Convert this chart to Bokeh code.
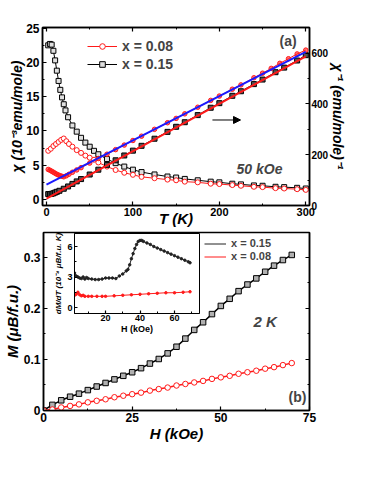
import numpy as np
from bokeh.plotting import figure
from bokeh.models import (Range1d, LinearAxis, Legend, LegendItem, Label, Arrow,
                          NormalHead, GridBox, FixedTicker)
from bokeh.embed import file_html
from bokeh.resources import INLINE

FONT = "Liberation Sans"
RED = "#ff1a1a"
BLUE = "#1a1aff"

# ---------------- panel (a) data ----------------
T_chi15 = [2, 4, 6, 8, 10, 12, 14, 16, 18, 20, 22, 25, 30, 35, 40, 45, 50, 55, 60,
           70, 80, 90, 100, 110, 125, 140, 150, 160, 175, 190, 200, 215, 225, 240,
           250, 265, 275, 290, 300]
chi15 = [22.5, 22.7, 22.6, 21.7, 20.3, 18.8, 17.3, 16.0, 14.9, 13.9, 13.0, 12.0, 10.8,
         9.9, 9.0, 8.3, 7.7, 7.1, 6.6, 5.9, 5.3, 4.8, 4.35, 4.0, 3.65, 3.35, 3.2, 3.0,
         2.8, 2.6, 2.5, 2.3, 2.2, 2.05, 2.0, 1.85, 1.8, 1.7, 1.6]

T_chi08 = [2, 5, 8, 11, 14, 17, 20, 23, 26, 30, 35, 40, 45, 50, 55, 60, 70, 80, 90,
           100, 110, 125, 140, 150, 160, 175, 190, 200, 215, 225, 240, 250, 265, 275,
           290, 300]
chi08 = [7.1, 7.4, 7.8, 8.1, 8.4, 8.7, 8.9, 8.5, 8.1, 7.7, 7.2, 6.8, 6.4, 6.1, 5.8,
         5.4, 4.8, 4.3, 3.9, 3.6, 3.3, 3.1, 2.9, 2.8, 2.6, 2.5, 2.3, 2.25, 2.1, 2.0,
         1.85, 1.8, 1.65, 1.6, 1.5, 1.4]

T_inv15 = [2, 4, 6, 8, 10, 12, 15, 20, 25, 30, 35, 40, 50, 60, 70, 80, 90, 100, 110,
           125, 140, 150, 160, 175, 190, 200, 215, 225, 240, 250, 265, 275, 290, 300]
inv15 = [45, 45, 46, 48, 51, 54, 58, 66, 75, 85, 95, 104, 122, 141, 160, 178, 197, 216,
         235, 263, 290, 310, 328, 356, 385, 403, 432, 450, 478, 496, 525, 543, 571, 592]

T_inv08 = [2, 4, 6, 8, 10, 12, 14, 16, 18, 20, 23, 26, 30, 35, 40, 50, 60, 70, 80, 90,
           100, 110, 125, 140, 150, 160, 175, 190, 200, 215, 225, 240, 250, 260, 270,
           280, 290, 300]
inv08 = [142, 139, 135, 131, 127, 123, 120, 117, 115, 113, 117, 123, 131, 140, 149, 167,
         185, 202, 220, 238, 256, 273, 300, 326, 343, 361, 387, 414, 431, 458, 475, 503,
         521, 540, 560, 578, 597, 612]

fit_T = [0, 300]
fit08 = [82, 605]
fit15 = [27, 587]

# ---------------- panel (b) data ----------------
H_b = [0, 2.5, 5, 7.5, 10, 12.5, 15, 17.5, 20, 22.5, 25, 27.5, 30, 32.5, 35, 37.5, 40,
       42.5, 45, 47.5, 50, 52.5, 55, 57.5, 60, 62.5, 65, 67.5, 70]
M15 = [0, 0.011, 0.020, 0.027, 0.033, 0.040, 0.047, 0.054, 0.061, 0.068, 0.075, 0.083,
       0.092, 0.101, 0.112, 0.125, 0.141, 0.158, 0.173, 0.189, 0.205, 0.219, 0.234,
       0.247, 0.259, 0.272, 0.284, 0.295, 0.305]
M08 = [0, 0.002, 0.006, 0.009, 0.012, 0.016, 0.019, 0.022, 0.026, 0.029, 0.032, 0.035,
       0.039, 0.042, 0.045, 0.049, 0.052, 0.055, 0.058, 0.062, 0.065, 0.068, 0.072,
       0.075, 0.078, 0.082, 0.085, 0.089, 0.093]

# ---------------- inset data ----------------
H_in15 = [2, 3, 4, 5, 6, 7, 8, 9, 10, 12, 14, 16, 18, 20, 22, 24, 26, 28, 30, 32, 33,
          34, 35, 36, 37, 38, 39, 40, 41, 42, 44, 46, 48, 50, 52, 54, 56, 58, 60, 62,
          64, 66, 68, 69]
dM15 = [3.4, 3.1, 3.0, 2.9, 2.85, 3.0, 2.8, 2.95, 2.85, 2.8, 2.75, 2.75, 2.8, 2.9, 2.9,
        2.9, 2.85, 3.1, 3.3, 3.6, 3.75, 4.2, 4.8, 5.3, 5.8, 6.2, 6.5, 6.6, 6.6, 6.5,
        6.35, 6.2, 6.0, 5.85, 5.7, 5.55, 5.4, 5.25, 5.1, 4.95, 4.8, 4.65, 4.5, 4.4]
H_in08 = [2, 3, 4, 5, 6, 7, 8, 10, 12, 15, 18, 20, 25, 30, 35, 40, 45, 50, 55, 60, 65, 69]
dM08 = [1.2, 1.3, 1.5, 1.25, 1.15, 1.2, 1.1, 1.1, 1.1, 1.1, 1.1, 1.1, 1.15, 1.2, 1.25,
        1.3, 1.35, 1.4, 1.45, 1.45, 1.5, 1.55]


def style_axis(ax, size="11px", label_size="15px", label_style="bold italic"):
    ax.axis_line_width = 1.5
    ax.axis_line_color = "black"
    ax.major_tick_in = 4
    ax.major_tick_out = 0
    ax.minor_tick_in = 2
    ax.minor_tick_out = 0
    ax.major_tick_line_width = 1.2
    ax.major_label_text_font = FONT
    ax.major_label_text_font_style = "bold"
    ax.major_label_text_font_size = size
    ax.major_label_text_color = "black"
    ax.axis_label_text_font = FONT
    ax.axis_label_text_font_style = label_style
    ax.axis_label_text_font_size = label_size
    ax.axis_label_text_color = "black"


def mirror(ax):
    ax.major_label_text_font_size = "1px"
    ax.major_label_text_color = None
    ax.major_label_standoff = 0
    ax.axis_label = None


# ================= panel (a) =================
pa = figure(width=366, height=230, x_range=Range1d(-4.6, 304.3),
            y_range=Range1d(-0.88, 25.1), output_backend="svg",
            toolbar_location=None, min_border_left=42, min_border_right=57,
            min_border_top=27, min_border_bottom=25, frame_align=False)
pa.grid.visible = False
pa.outline_line_color = "black"
pa.outline_line_width = 1.5
pa.extra_y_ranges = {"inv": Range1d(0, 701)}

pa.xaxis.ticker = FixedTicker(ticks=[0, 100, 200, 300], minor_ticks=[50, 150, 250])
pa.yaxis.ticker = FixedTicker(ticks=[0, 5, 10, 15, 20, 25],
                              minor_ticks=[2.5, 7.5, 12.5, 17.5, 22.5])
pa.xaxis.axis_label = "T (K)"
pa.yaxis.axis_label = "χ (10⁻³emu/mole)"
style_axis(pa.xaxis[0])
style_axis(pa.yaxis[0], size="12px", label_size="14px")
pa.xaxis.major_label_standoff = 2
pa.xaxis.axis_label_standoff = -9
pa.yaxis.major_label_standoff = 3
pa.yaxis.axis_label_standoff = -2

ax_r = LinearAxis(y_range_name="inv", axis_label="χ⁻¹ (emu/mole)⁻¹",
                  ticker=FixedTicker(ticks=[0, 200, 400, 600], minor_ticks=[100, 300, 500, 700]))
style_axis(ax_r, size="10px", label_size="14px")
ax_r.major_label_standoff = 2
ax_r.axis_label_standoff = -1
pa.add_layout(ax_r, "right")

ax_t = LinearAxis(ticker=FixedTicker(ticks=[0, 100, 200, 300], minor_ticks=[50, 150, 250]))
style_axis(ax_t)
mirror(ax_t)
pa.add_layout(ax_t, "above")

# chi data (left axis)
l15 = pa.line(T_chi15, chi15, line_color="black", line_width=1)
s15 = pa.scatter(T_chi15, chi15, marker="square", size=5, line_color="black",
                 fill_color="#e0e0e0", line_width=1)
l08 = pa.line(T_chi08, chi08, line_color=RED, line_width=1)
s08 = pa.scatter(T_chi08, chi08, marker="circle", size=5, line_color=RED,
                 fill_color="white", line_width=1)
# inverse chi data (right axis)
pa.line(T_inv15, inv15, line_color="black", line_width=1, y_range_name="inv")
pa.scatter(T_inv15, inv15, marker="square", size=5, line_color="black",
           fill_color="#555555", line_width=1, y_range_name="inv")
pa.line(T_inv08, inv08, line_color=RED, line_width=1, y_range_name="inv")
pa.scatter(T_inv08, inv08, marker="circle", size=4.5, line_color=RED,
           fill_color=RED, fill_alpha=0.6, line_width=1, y_range_name="inv")
# Curie-Weiss fits
pa.line(fit_T, fit15, line_color=RED, line_width=2, y_range_name="inv")
pa.line(fit_T, fit08, line_color=BLUE, line_width=2, y_range_name="inv")

leg_a = Legend(items=[LegendItem(label="x = 0.08", renderers=[l08, s08]),
                      LegendItem(label="x = 0.15", renderers=[l15, s15])],
               location=(45, 133), glyph_width=30, glyph_height=14, label_height=14,
               label_standoff=5, spacing=2, padding=0, margin=0,
               background_fill_alpha=0, border_line_alpha=0,
               label_text_font=FONT, label_text_font_style="bold",
               label_text_font_size="14px")
pa.add_layout(leg_a)

pa.add_layout(Label(x=279.6, y=23.2, text="(a)", text_font=FONT, text_font_style="bold",
                    text_font_size="14px", text_align="center", text_baseline="middle"))
pa.add_layout(Label(x=246.4, y=4.42, text="50 kOe", text_font=FONT,
                    text_font_style="bold italic", text_font_size="14px",
                    text_align="center", text_baseline="middle"))
pa.add_layout(Arrow(end=NormalHead(size=7, fill_color="black", line_color="black"),
                    x_start=192, y_start=11.6, x_end=224.5, y_end=11.6,
                    line_width=1, line_color="black"))

# ================= panel (b) =================
pb = figure(width=366, height=224, x_range=Range1d(0, 75), y_range=Range1d(0, 0.349),
            output_backend="svg", toolbar_location=None, min_border_left=42,
            min_border_right=57, min_border_top=2, min_border_bottom=44,
            frame_align=False)
pb.grid.visible = False
pb.outline_line_color = "black"
pb.outline_line_width = 1.5
pb.xaxis.ticker = FixedTicker(ticks=[0, 25, 50, 75], minor_ticks=[12.5, 37.5, 62.5])
pb.yaxis.ticker = FixedTicker(ticks=[0, 0.1, 0.2, 0.3], minor_ticks=[0.05, 0.15, 0.25])
pb.xaxis.axis_label = "H (kOe)"
pb.yaxis.axis_label = "M (μB/f.u.)"
style_axis(pb.xaxis[0], size="12px", label_size="15px")
style_axis(pb.yaxis[0], size="12px", label_size="15px")
pb.xaxis.major_label_standoff = 2
pb.xaxis.axis_label_standoff = 0
pb.yaxis.major_label_standoff = 3
pb.yaxis.axis_label_standoff = 0
pb.yaxis.formatter.use_scientific = False

ax_rb = LinearAxis(ticker=FixedTicker(ticks=[0, 0.1, 0.2, 0.3], minor_ticks=[0.05, 0.15, 0.25]))
style_axis(ax_rb)
mirror(ax_rb)
pb.add_layout(ax_rb, "right")

pb.line(H_b, M15, line_color="black", line_width=1.5)
pb.scatter(H_b, M15, marker="square", size=5.5, line_color="black", fill_color="#b0b0b0",
           line_width=1)
pb.line(H_b, M08, line_color=RED, line_width=1.5)
pb.scatter(H_b, M08, marker="circle", size=5.5, line_color=RED, fill_color="white",
           line_width=1)

# legend of the inset curves (proxies carry only the style, no visible data)
NAN = [np.nan]
px15 = [pb.line(NAN, NAN, line_color="#222222", line_width=1)]
px08 = [pb.line(NAN, NAN, line_color=RED, line_width=1)]
leg_b = Legend(items=[LegendItem(label="x = 0.15", renderers=px15, index=0),
                      LegendItem(label="x = 0.08", renderers=px08, index=0)],
               location=(161, 148), glyph_width=22, glyph_height=11, label_height=11,
               label_standoff=5, spacing=1, padding=0, margin=0,
               background_fill_alpha=0, border_line_alpha=0,
               label_text_font=FONT, label_text_font_style="bold",
               label_text_font_size="11px")
pb.add_layout(leg_b)

pb.add_layout(Label(x=71.6, y=0.0255, text="(b)", text_font=FONT, text_font_style="bold",
                    text_font_size="14px", text_align="center", text_baseline="middle"))
pb.add_layout(Label(x=62.5, y=0.1745, text="2 K", text_font=FONT,
                    text_font_style="bold italic", text_font_size="15px",
                    text_align="center", text_baseline="middle"))

# ================= inset =================
pi = figure(width=366, height=224, x_range=Range1d(2.0, 74.5), y_range=Range1d(-0.59, 7.28),
            output_backend="svg", toolbar_location=None, min_border_left=74,
            min_border_right=167, min_border_top=3, min_border_bottom=141,
            border_fill_color=None, background_fill_color=None, frame_align=False)
pi.grid.visible = False
pi.outline_line_color = "black"
pi.outline_line_width = 1
pi.xaxis.ticker = FixedTicker(ticks=[20, 40, 60], minor_ticks=[10, 30, 50, 70])
pi.yaxis.ticker = FixedTicker(ticks=[0, 3, 6], minor_ticks=[1.5, 4.5])
pi.xaxis.axis_label = "H (kOe)"
pi.yaxis.axis_label = "dM/dT (10⁻⁴ μB/f.u. K)"
style_axis(pi.xaxis[0], size="9px", label_size="9px", label_style="bold")
style_axis(pi.yaxis[0], size="9px", label_size="8px", label_style="bold italic")
for ax in (pi.xaxis[0], pi.yaxis[0]):
    ax.axis_line_width = 1
    ax.major_tick_in = 3
    ax.minor_tick_in = 2
pi.xaxis.major_label_standoff = 1
pi.xaxis.axis_label_standoff = 0
pi.yaxis.major_label_standoff = 2
pi.yaxis.axis_label_standoff = 1

pi.line(H_in15, dM15, line_color="#222222", line_width=1)
pi.scatter(H_in15, dM15, marker="circle", size=2.5, line_color="#222222",
           fill_color="#222222")
pi.line(H_in08, dM08, line_color=RED, line_width=1)
pi.scatter(H_in08, dM08, marker="circle", size=2.5, line_color=RED, fill_color=RED)

grid = GridBox(children=[(pa, 0, 0), (pb, 1, 0), (pi, 1, 0)])

open("out.html", "w").write(file_html(grid, INLINE))
